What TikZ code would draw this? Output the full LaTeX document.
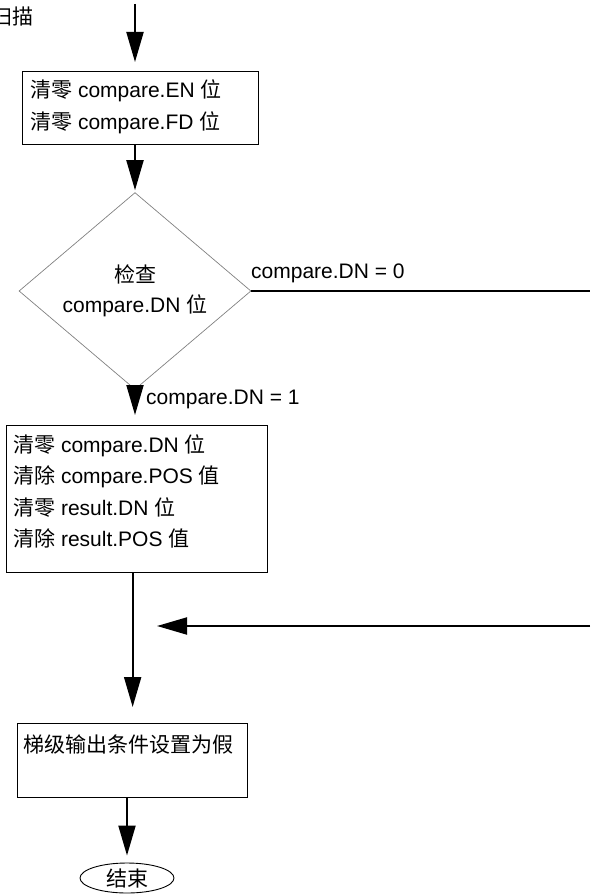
\documentclass[tikz,border=0pt]{standalone}
\usepackage{fontspec}
\setmainfont{Liberation Sans}
\newfontfamily\cjk{Noto Sans CJK SC}
\usetikzlibrary{arrows.meta,shapes.geometric}
\tikzset{
  flow/.style={line width=2pt, -{Triangle[length=30pt,width=17pt]}},
  procbox/.style={draw, line width=1.3pt, anchor=north west, inner sep=0pt},
  proctext/.style={anchor=north west, align=left, inner sep=0pt,
    font=\fontsize{21}{31.5}\selectfont},
  condtext/.style={anchor=west, inner sep=0pt, font=\fontsize{21}{25}\selectfont}
}
\begin{document}
\begin{tikzpicture}[x=1pt,y=-1pt]
  \useasboundingbox (0,0) rectangle (590,896);
  \node[condtext, anchor=east] (scan) at (34,17) {\cjk 扫描};
  \coordinate (start) at (135,4);
  \node[procbox, minimum width=236pt, minimum height=73pt] (clr1) at (22,71) {};
  \node[proctext] (clr1txt) at (30,80)
    {{\cjk 清零} compare.EN {\cjk 位}\\[0.5pt]{\cjk 清零} compare.FD {\cjk 位}};
  \node[draw=gray, line width=0.7pt, diamond, minimum width=232pt, minimum height=162pt,
    inner sep=0pt, align=center, font=\fontsize{21}{30}\selectfont] (check) at (135,291)
    {{\cjk 检查}\\compare.DN {\cjk 位}};
  \coordinate (exit) at (590,291);
  \node[condtext] (dn0) at (251,273) {compare.DN = 0};
  \node[condtext] (dn1) at (146,399) {compare.DN = 1};
  \node[procbox, minimum width=261pt, minimum height=147pt] (clr2) at (6,425) {};
  \node[proctext] (clr2txt) at (13,434.5)
    {{\cjk 清零} compare.DN {\cjk 位}\\{\cjk 清除} compare.POS {\cjk 值}\\
     {\cjk 清零} result.DN {\cjk 位}\\{\cjk 清除} result.POS {\cjk 值}};
  \coordinate (loopin) at (590,626);
  \coordinate (merge) at (157,626);
  \node[procbox, minimum width=230pt, minimum height=74pt] (setfalse) at (17,723) {};
  \node[proctext] (setfalsetxt) at (23,734.5) {\cjk 梯级输出条件设置为假};
  \node[draw, line width=0.9pt, ellipse, minimum width=94pt, minimum height=30pt,
    inner sep=0pt, font=\fontsize{21}{25}\selectfont] (done) at (127,878) {\cjk 结束};
  \draw[flow, shorten >=9pt] (start) -- (start |- clr1.north);
  \draw[flow, shorten >=2pt] (clr1.south -| check.north) -- (check.north);
  \draw[line width=2pt] (check.east) -- (exit);
  \draw[flow, shorten >=10pt] (check.south) -- (check.south |- clr2.north);
  \draw[flow, shorten >=16pt] (clr2.south -| setfalse.north) -- (setfalse.north);
  \draw[flow] (loopin) -- (merge);
  \draw[flow, shorten >=7pt] (setfalse.south -| done.north) -- (done.north);
\end{tikzpicture}
\end{document}
